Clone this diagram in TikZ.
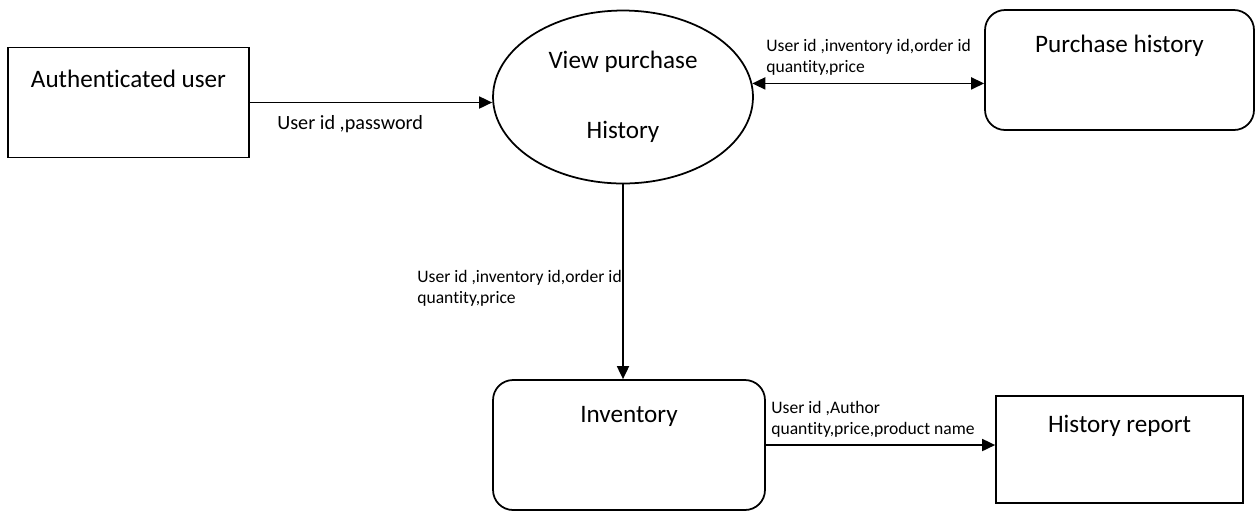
\documentclass[tikz,border=0pt]{standalone}
\usepackage{fontspec}
\setmainfont{Carlito}[Ligatures={NoCommon,NoContextual},RawFeature={-calt}]
\usetikzlibrary{arrows.meta,calc,positioning,shapes.geometric}

\begin{document}
\begin{tikzpicture}[x=0.02cm,y=-0.02cm,>={Triangle[length=0.26cm,width=0.24cm]},
  ext/.style={draw,line width=1pt,inner sep=0},
  store/.style={ext,rounded corners=0.4cm},
  proc/.style={ext,ellipse,align=center,font=\fontsize{14.3}{17}\selectfont},
  title/.style={inner sep=0,font=\fontsize{14.3}{17}\selectfont},
  flow/.style={->,line width=1pt},
  lbl/.style={inner sep=0,anchor=west,align=left,font=\fontsize{10}{12}\selectfont}]
  \useasboundingbox (0,0) rectangle (1256,512);
  \fill[white] (0,0) rectangle (1256,512);
  % entities, process and stores
  \node[ext,minimum width=4.82cm,minimum height=2.2cm] (auth) at (128.5,102.5) {};
  \node[title] (authT) at ([yshift=-0.64cm]auth.north) {Authenticated user};
  \node[proc,minimum width=5.2cm,minimum height=3.46cm] (view) at (623,97) {View purchase\\[0.8cm]History};
  \node[store,minimum width=5.38cm,minimum height=2.4cm] (hist) at (1119.5,70) {};
  \node[title] (histT) at ([yshift=-0.74cm]hist.north) {Purchase history};
  \node[store,minimum width=5.44cm,minimum height=2.6cm] (inv) at (629,445) {};
  \node[title] (invT) at ([yshift=-0.74cm]inv.north) {Inventory};
  \node[ext,minimum width=4.94cm,minimum height=2.14cm] (rep) at (1119.5,449.5) {};
  \node[title] (repT) at ([yshift=-0.62cm]rep.north) {History report};
  % data flows
  \draw[flow] (auth.east) -- (auth.east -| view.west);
  \draw[<->,line width=1pt] (view.6) -- (view.6 -| hist.west);
  \draw[flow] (view.south) -- (view.south |- inv.north);
  \draw[flow] (inv.east) -- (inv.east -| rep.west);
  \node[lbl,font=\fontsize{11.5}{13}\selectfont] (pwd) at (277,124) {User id ,password};
  \node[lbl] (histdata) at (766,57) {User id ,inventory id,order id\\quantity,price};
  \node[lbl] (invdata) at (417,288) {User id ,inventory id,order id\\quantity,price};
  \node[lbl] (repdata) at (771,419) {User id ,Author\\quantity,price,product name};
\end{tikzpicture}
\end{document}
